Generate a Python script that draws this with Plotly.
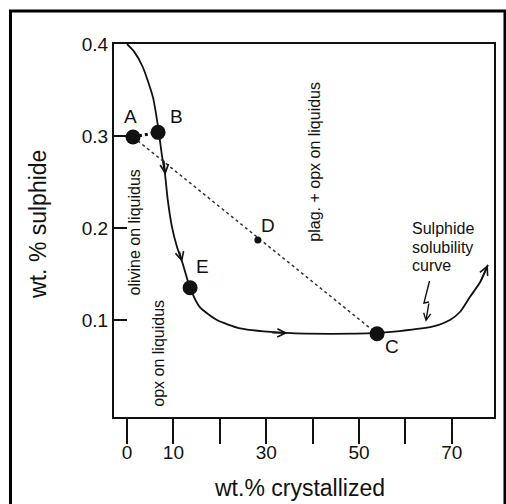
import plotly.graph_objects as go

# ---- data ----
curve_x = [0.0, 1.5, 3.4, 5.6, 6.7, 7.5, 8.2, 8.8, 9.7, 10.8, 11.9, 13.6, 15.7, 19.4, 24.4, 34.5, 44.0, 53.9, 58.8, 66.0, 69.6, 71.8, 73.9, 76.1, 77.8]
curve_y = [0.400, 0.392, 0.375, 0.342, 0.310, 0.280, 0.258, 0.230, 0.201, 0.179, 0.163, 0.135, 0.114, 0.100, 0.091, 0.086, 0.085, 0.086, 0.088, 0.093, 0.100, 0.109, 0.125, 0.141, 0.160]

point_names = ["A", "B", "E", "C"]
point_x = [1.3, 6.7, 13.6, 53.9]
point_y = [0.299, 0.304, 0.135, 0.085]

d_x = [28.2]
d_y = [0.187]

ab_x = [1.3, 6.7]
ab_y = [0.299, 0.304]
ac_x = [1.3, 53.9]
ac_y = [0.299, 0.085]

label_names = ["A", "B", "D", "E", "C"]
label_x = [0.8, 10.6, 30.4, 16.3, 57.2]
label_y = [0.321, 0.321, 0.203, 0.158, 0.071]

# chevrons along the curve: (tail x, tail y, head x, head y)
chev_tail_x = [7.9, 11.2, 31.0, 76.0]
chev_tail_y = [0.275, 0.176, 0.0862, 0.140]
chev_head_x = [8.3, 11.9, 34.6, 77.8]
chev_head_y = [0.258, 0.163, 0.0858, 0.160]

squig_x = [65.2, 64.0, 65.1]
squig_y = [0.1424, 0.1185, 0.1196]
squig_head_x = 64.4
squig_head_y = 0.098

x_ticks = [0, 10, 20, 30, 40, 50, 60, 70]
x_ticktext = ["0", "10", "", "30", "", "50", "", "70"]
y_ticks = [0.1, 0.2, 0.3, 0.4]
y_ticktext = ["0.1", "0.2", "0.3", "0.4"]

x_title = "wt.% crystallized"
y_title = "wt. % sulphide"

vert_texts = ["olivine on liquidus", "opx on liquidus", "plag. + opx on liquidus"]
vert_x = [1.7, 6.8, 40.5]
vert_y = [0.195, 0.064, 0.272]

note_lines = ["Sulphide", "solubility", "curve"]
note_x = 60.9
note_y = [0.199, 0.179, 0.159]

FONT = "Liberation Sans, Arial, sans-serif"
INK = "#111111"

fig = go.Figure()

fig.add_trace(go.Scatter(x=curve_x, y=curve_y, mode="lines",
                         line=dict(color=INK, width=1.8, shape="spline", smoothing=0.6),
                         hoverinfo="skip"))
fig.add_trace(go.Scatter(x=ac_x, y=ac_y, mode="lines",
                         line=dict(color="#333333", width=1.5, dash="dot"), hoverinfo="skip"))
fig.add_trace(go.Scatter(x=ab_x, y=ab_y, mode="lines",
                         line=dict(color=INK, width=3, dash="dot"), hoverinfo="skip"))
fig.add_trace(go.Scatter(x=squig_x, y=squig_y, mode="lines",
                         line=dict(color=INK, width=1.4), hoverinfo="skip"))
fig.add_trace(go.Scatter(x=point_x, y=point_y, mode="markers", text=point_names,
                         marker=dict(color=INK, size=15, symbol="circle"), hoverinfo="text"))
fig.add_trace(go.Scatter(x=d_x, y=d_y, mode="markers",
                         marker=dict(color=INK, size=7), hoverinfo="skip"))

annotations = []
for t, x, y in zip(label_names, label_x, label_y):
    annotations.append(dict(x=x, y=y, text=t, showarrow=False,
                            font=dict(family=FONT, size=19, color=INK)))
for tx, ty, hx, hy in zip(chev_tail_x, chev_tail_y, chev_head_x, chev_head_y):
    annotations.append(dict(x=hx, y=hy, ax=tx, ay=ty, xref="x", yref="y",
                            axref="x", ayref="y", text="", showarrow=True,
                            arrowhead=5, arrowsize=1.1, arrowwidth=1.5,
                            arrowcolor=INK, standoff=0))
annotations.append(dict(x=squig_head_x, y=squig_head_y, ax=squig_x[-1], ay=squig_y[-1],
                        xref="x", yref="y", axref="x", ayref="y", text="",
                        showarrow=True, arrowhead=5, arrowsize=1.0, arrowwidth=1.4,
                        arrowcolor=INK, standoff=0))
for t, x, y in zip(vert_texts, vert_x, vert_y):
    annotations.append(dict(x=x, y=y, text=t, showarrow=False, textangle=-90,
                            font=dict(family=FONT, size=16, color=INK)))
for t, y in zip(note_lines, note_y):
    annotations.append(dict(x=note_x, y=y, text=t, showarrow=False, xanchor="left",
                            font=dict(family=FONT, size=16, color=INK)))
# axis titles
annotations.append(dict(x=0.489, y=-0.19, xref="paper", yref="paper", text=x_title,
                        xanchor="center", yanchor="middle",
                        showarrow=False, font=dict(family=FONT, size=23, color=INK)))
annotations.append(dict(x=-0.2, y=0.515, xref="paper", yref="paper", text=y_title,
                        xanchor="center", yanchor="middle",
                        showarrow=False, textangle=-90,
                        font=dict(family=FONT, size=23, color=INK)))

fig.update_layout(
    width=506, height=504,
    margin=dict(l=114, r=12, t=44, b=87),
    paper_bgcolor="white", plot_bgcolor="white",
    showlegend=False,
    annotations=annotations,
    shapes=[dict(type="rect", xref="paper", yref="paper",
                 x0=-0.2724, x1=1.0289, y0=-0.3, y1=1.0885,
                 line=dict(color="black", width=3))],
    xaxis=dict(range=[-2.8, 79.1], tickvals=x_ticks, ticktext=x_ticktext,
               ticks="outside", ticklen=25, tickwidth=2, tickcolor=INK,
               ticklabelstandoff=-8, automargin=False,
               showline=True, linecolor=INK, linewidth=2, mirror=True,
               showgrid=False, zeroline=False,
               tickfont=dict(family=FONT, size=19, color=INK)),
    yaxis=dict(range=[-0.0054, 0.4], tickvals=y_ticks, ticktext=y_ticktext,
               ticks="inside", ticklen=13, tickwidth=2, tickcolor=INK,
               automargin=False,
               showline=True, linecolor=INK, linewidth=2, mirror=True,
               showgrid=False, zeroline=False,
               tickfont=dict(family=FONT, size=19, color=INK)),
)

fig.write_html("out.html")
